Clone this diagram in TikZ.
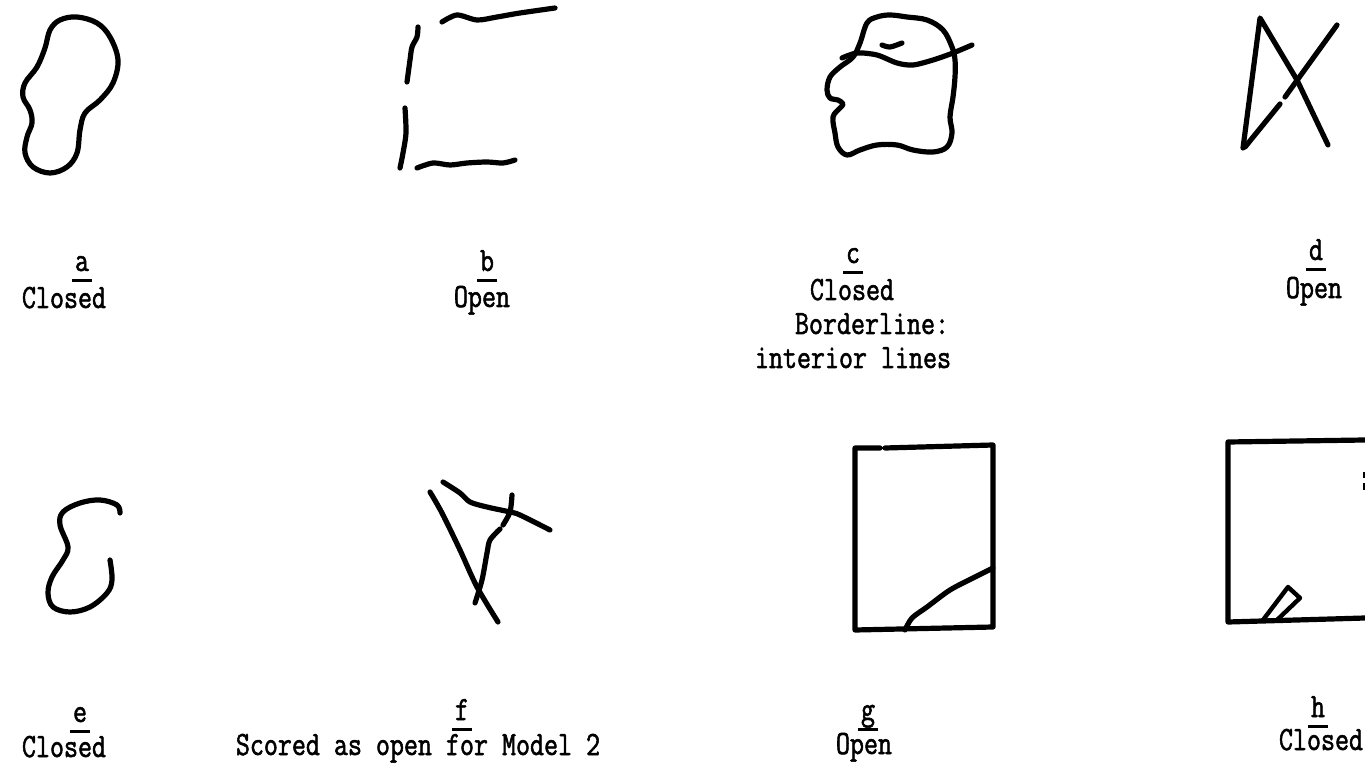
\documentclass[tikz,border=0pt]{standalone}
\usepackage{fontspec}
\newfontfamily\typed{Latin Modern Mono}[FakeStretch=0.8, FakeBold=1.6]

\tikzset{
  stroke/.style={line width=2.6pt, line cap=round, line join=round},
  caption/.style={font=\fontsize{17}{20}\selectfont\typed, inner sep=0pt, anchor=base},
}
% letter with a heavy bar below it
\newsavebox{\tagbox}
\newcommand{\itemlbl}[1]{\sbox{\tagbox}{#1}\usebox{\tagbox}%
  \llap{\hbox to \wd\tagbox{\hss\smash{\lower5.5pt\hbox{\rule{\dimexpr\wd\tagbox+3pt}{1.5pt}}}\hss}}}

\begin{document}
\begin{tikzpicture}[x=0.5pt, y=-0.5pt]
\useasboundingbox (0,0) rectangle (1365,764);

% a: closed blob
\draw[stroke] plot[smooth cycle, tension=0.6] coordinates {
  (50,30) (45,48) (37,67) (25,83) (23,97) (30,110) (32,123) (27,137) (25,153)
  (33,167) (50,173) (67,167) (77,153) (80,130) (85,113) (100,100) (113,83)
  (118,60) (110,37) (97,23) (77,17) (60,20)};

% b: four open strokes
\draw[stroke] plot[smooth] coordinates {(442,22) (457,15) (477,20) (497,17) (520,13) (555,8)};
\draw[stroke] plot[smooth] coordinates {(418,27) (417,37) (412,47) (410,60) (407,82)};
\draw[stroke] plot[smooth] coordinates {(405,108) (406,133) (403,153) (400,168)};
\draw[stroke] plot[smooth] coordinates {(417,168) (433,163) (450,165) (467,163) (487,162) (503,163) (515,160)};

% c: head with hat line and brow
\draw[stroke] plot[smooth cycle, tension=0.6] coordinates {
  (853,57) (860,43) (867,23) (877,17) (890,15) (907,17) (927,20) (943,30)
  (952,47) (955,60) (955,77) (953,97) (950,117) (952,133) (947,147) (933,152)
  (913,150) (897,145) (877,145) (860,150) (847,155) (838,147) (835,133)
  (833,117) (840,108) (843,104) (838,100) (830,98) (827,90) (830,77) (840,67)};
\draw[stroke] plot[smooth] coordinates {(842,58) (857,53) (877,55) (897,63) (913,65) (933,60) (953,53) (972,45)};
\draw[stroke] plot[smooth] coordinates {(882,45) (890,47) (902,43)};

% d: crossed triangle
\draw[stroke] (1243,148) -- (1260,18) -- (1297,80) -- (1328,145);
\draw[stroke] (1245,147) -- (1280,104);
\draw[stroke] (1285,97) -- (1337,25);

% e: unclosed loop
\draw[stroke] plot[smooth, tension=0.6] coordinates {
  (120,513) (117,505) (100,500) (80,503) (63,512) (60,525) (68,547) (63,560)
  (52,577) (48,593) (53,607) (70,612) (90,607) (107,593) (112,580) (110,560)};

% f: three crossing strokes
\draw[stroke] plot[smooth] coordinates {(430,492) (442,513) (460,550) (477,587) (498,622)};
\draw[stroke] plot[smooth] coordinates {(443,482) (460,493) (470,502) (487,507) (510,512) (520,515) (550,530)};
\draw[stroke] plot[smooth] coordinates {(512,495) (510,512) (503,525)};
\draw[stroke] plot[smooth] coordinates {(500,529) (490,540) (487,553) (482,580) (475,603)};

% g: frame with corner curve
\draw[stroke] (880,448) -- (855,448) -- (855,630) -- (993,627) -- (993,445) -- (885,448);
\draw[stroke] plot[smooth] coordinates {(905,630) (912,618) (927,607) (950,590) (973,578) (993,568)};

% h: frame with small slanted tab
\draw[stroke] (1365,440) -- (1228,442) -- (1228,622) -- (1365,618);
\draw[line width=1pt] (1364,472) -- (1364,478) (1364,483) -- (1364,490);
\draw[stroke, line width=2.2pt] (1263,620) -- (1288,587) -- (1300,598) -- (1277,620);

% captions
\node[caption] (a-tag) at (82,271) {\itemlbl{a}};
\node[caption] (a-state) at (64,308) {Closed};
\node[caption] (b-tag) at (487,271) {\itemlbl{b}};
\node[caption] (b-state) at (482,307) {Open};
\node[caption] (c-tag) at (853,263) {\itemlbl{c}};
\node[caption] (c-state) at (852,300) {Closed};
\node[caption] (c-note1) at (872,334) {Borderline:};
\node[caption] (c-note2) at (853,368) {interior lines};
\node[caption] (d-tag) at (1316,260) {\itemlbl{d}};
\node[caption] (d-state) at (1314,298) {Open};
\node[caption] (e-tag) at (80,722) {\itemlbl{e}};
\node[caption] (e-state) at (64,757) {Closed};
\node[caption] (f-tag) at (462,720) {\itemlbl{f}};
\node[caption] (f-state) at (418,755) {Scored as open for Model 2};
\node[caption] (g-tag) at (868,720) {\itemlbl{g}};
\node[caption] (g-state) at (864,754) {Open};
\node[caption] (h-tag) at (1318,717) {\itemlbl{h}};
\node[caption] (h-state) at (1321,750) {Closed};
\end{tikzpicture}
\end{document}
